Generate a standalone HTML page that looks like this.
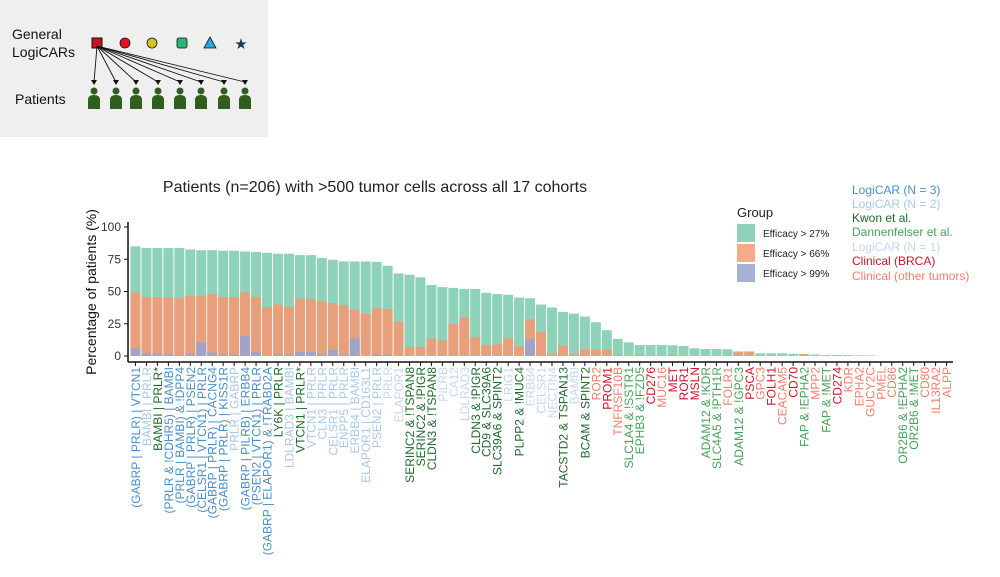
<!DOCTYPE html>
<html><head><meta charset="utf-8"><style>
body{margin:0;background:#fff;width:1000px;height:577px;overflow:hidden;font-family:"Liberation Sans",sans-serif}
svg{position:absolute;left:0;top:0}
</style></head><body>
<svg id="chart" width="1000" height="577" viewBox="0 0 1000 577">
<g>
<rect x="0" y="0" width="268" height="137" fill="#efefef"/>
<text x="12" y="39" font-size="14" fill="#111">General</text>
<text x="12" y="57" font-size="14" fill="#111">LogiCARs</text>
<text x="15" y="104" font-size="14" fill="#111">Patients</text>
<rect x="92" y="38" width="10" height="10" fill="#c8141e" stroke="#111" stroke-width="1"/>
<circle cx="125" cy="43" r="5" fill="#e0141e" stroke="#111" stroke-width="0.8"/>
<circle cx="152" cy="43" r="5" fill="#d8c020" stroke="#111" stroke-width="0.8"/>
<rect x="177" y="38" width="10" height="10" rx="2" fill="#2db47a" stroke="#111" stroke-width="0.8"/>
<polygon points="210,37 216,48 204,48" fill="#2aa8d8" stroke="#111" stroke-width="0.8"/>
<text x="241" y="49" font-size="15" text-anchor="middle" fill="#1a3a5a">★</text>
<g id="people"></g>
</g>
<text x="375" y="192" font-size="16" text-anchor="middle" fill="#222">Patients (n=206) with &gt;500 tumor cells across all 17 cohorts</text>
<text transform="translate(96,292) rotate(-90)" font-size="14" text-anchor="middle" fill="#111">Percentage of patients (%)</text>
<g id="bars"></g>
<g id="axes"></g>
<g id="xlabels"></g>
<g>
<text x="737" y="217" font-size="13" fill="#222">Group</text>
<rect x="737" y="224" width="18" height="18" fill="#8ed2b9"/>
<rect x="737" y="244" width="18" height="18" fill="#f8a98b"/>
<rect x="737" y="264" width="18" height="18" fill="#a6b1d6"/>
<text x="763" y="237" font-size="10" fill="#222">Efficacy &gt; 27%</text>
<text x="763" y="257" font-size="10" fill="#222">Efficacy &gt; 66%</text>
<text x="763" y="277" font-size="10" fill="#222">Efficacy &gt; 99%</text>
</g>
<g font-size="12">
<text x="852" y="194" fill="#4a8fc8">LogiCAR (N = 3)</text>
<text x="852" y="208" fill="#a9c9e6">LogiCAR (N = 2)</text>
<text x="852" y="222" fill="#1f6a2e">Kwon et al.</text>
<text x="852" y="236" fill="#46a35a">Dannenfelser et al.</text>
<text x="852" y="251" fill="#c3d8ee">LogiCAR (N = 1)</text>
<text x="852" y="265" fill="#d0142a">Clinical (BRCA)</text>
<text x="852" y="280" fill="#f2806e">Clinical (other tumors)</text>
</g>
</svg>
<script>
const labels=["(GABRP | PRLR) | VTCN1","BAMBI | PRLR","BAMBI | PRLR*","(PRLR & !CDHR5) | BAMBI","(PRLR | BAMBI) & !DPP4","(GABRP | PRLR) | PSEN2","(CELSR1 | VTCN1) | PRLR","(GABRP | PRLR) | CACNG4","(GABRP | PRLR) | KISS1R","PRLR | GABRP","(GABRP | PILRB) | ERBB4","(PSEN2 | VTCN1) | PRLR","(GABRP | ELAPOR1) & !TRABD2A","LY6K | PRLR","LDLRAD3 | BAMBI","VTCN1 | PRLR*","VTCN1 | PRLR","CLN3 | PRLR","CELSR1 | PRLR","ENPP5 | PRLR","ERBB4 | BAMBI","ELAPOR1 | CD163L1","PSEN2 | PRLR","PRLR","ELAPOR1","SERINC2 & !TSPAN8","SERINC2 & !PIGR","CLDN3 & !TSPAN8","PILRB","CA12","LDLRAD3","CLDN3 & !PIGR","CD9 & SLC39A6","SLC39A6 & SPINT2","LRIG1","PLPP2 & !MUC4","ERBB4","CELSR1","NECTIN4","TACSTD2 & TSPAN13","BAMBI","BCAM & SPINT2","ROR2","PROM1","TNFRSF10B","SLC1A4 & !SSTR1","EPHB3 & !FZD5","CD276","MUC16","MET","ROR1","MSLN","ADAM12 & !KDR","SLC4A5 & !PTH1R","FOLR1","ADAM12 & !GPC3","PSCA","GPC3","FOLH1","CEACAM5","CD70","FAP & !EPHA2","MPP2","FAP & !MET","CD274","KDR","EPHA2","GUCY2C","PMEL","CD86","OR2B6 & !EPHA2","OR2B6 & !MET","CD80","IL13RA2","ALPP"];
const groups=[3,2,"K",3,3,3,3,3,3,2,3,3,3,"K",2,"K",2,2,2,2,2,2,2,1,1,"K","K","K",1,1,1,"K","K","K",1,"K",1,1,1,"K",1,"K","O","B","O","D","D","B","O","B","B","B","D","D","O","D","B","O","B","O","B","D","O","D","B","O","O","O","O","O","D","D","O","O","O"];
const green=[85,83.7,83.7,83.7,83.7,82.6,82,82,81.6,81.6,81,80.6,80,79.3,79.3,78.2,78.2,76,74.6,73.3,73.3,73.3,73,70,64,63,61,55,53.4,52.8,52,52,49,48,47.4,45.3,44.8,39.9,37.6,34.2,32.9,30.6,26.2,20,13.2,10.6,8.5,8.5,8.5,8.3,7.8,6,5.4,5.4,5.2,3.6,3.6,2.1,2.1,2.1,1.7,1.5,1.2,0.8,0.8,0.8,0.5,0.5,0,0,0,0,0,0,0];
const orange=[49.2,45.6,45.6,45.6,44.8,46.6,46.6,48,45.6,45.6,49.2,45.6,37.8,40,37.8,44.3,44.3,42.7,41,39.6,35.8,32.6,37,36.5,26.7,7,7,13.7,12,24.9,29.8,14.5,8.5,9,13.7,7.5,28.5,18.9,1.5,7.8,1.5,5.2,5.2,5.2,0.8,0,0.8,0,0,0.8,0,0,0,0,0,3.2,3.2,0,0,0,0,1.5,0,0,0,0,0,0,0,0,0,0,0,0,0];
const purple=[6,2,2,1.3,0.5,1.5,10.6,2.8,1,1,15.5,3.4,0,1,1,3.4,3.4,1.5,4.7,1,13.7,0,1,1,0,0,0,0,0,0,0,0,0,0,0,0,13,0,0,0,0,0,0,0,0,0,0,0,0,0,0,0,0,0,0,0,0,0,0,0,0,0,0,0,0,0,0,0,0,0,0,0,0,0,0];
const yTicks=[0,25,50,75,100];
const NS="http://www.w3.org/2000/svg";
const colorMap={3:"#4a8fc8",2:"#a9c9e6",1:"#c3d8ee",K:"#1f6a2e",D:"#46a35a",B:"#d0142a",O:"#f2806e"};
const x0=135.5,step=10.96,bw=10;
const xs=i=>x0+i*step;
const ys=v=>356-v*1.29;
function mk(tag,attrs,parent){const e=document.createElementNS(NS,tag);for(const k in attrs)e.setAttribute(k,attrs[k]);parent.appendChild(e);return e;}
const bars=document.getElementById('bars');
const series=[[green,"#8ed2b9","green"],[orange,"#e8a07c","orange"],[purple,"#a3a3c6","purple"]];
series.forEach(([arr,col,nm])=>{arr.forEach((v,i)=>{if(v<=0)return;
const r=mk('rect',{x:xs(i)-bw/2,y:ys(v),width:bw,height:ys(0)-ys(v),fill:col},bars);

});});
const ax=document.getElementById('axes');
const ya=mk('line',{x1:128,y1:222,x2:128,y2:362,stroke:'#111','stroke-width':1.5},ax);


const xa=mk('line',{x1:128,y1:362,x2:953,y2:362,stroke:'#111','stroke-width':1.5},ax);


yTicks.forEach(t=>{mk('line',{x1:124,y1:ys(t),x2:128,y2:ys(t),stroke:'#111'},ax);
const tx=mk('text',{x:121,y:ys(t)+4,'font-size':12,'text-anchor':'end',fill:'#333'},ax);tx.textContent=t;

});
const xl=document.getElementById('xlabels');
labels.forEach((l,i)=>{mk('line',{x1:xs(i),y1:362,x2:xs(i),y2:366,stroke:'#111'},ax);
const t=mk('text',{transform:`translate(${xs(i)+4.5},367) rotate(-90)`,'font-size':12,'text-anchor':'end',fill:colorMap[groups[i]]},xl);t.textContent=l;

});
const ppl=document.getElementById('people');
[94,116,136,158,180,201,224,245].forEach(px=>{
mk('line',{x1:97,y1:46,x2:px,y2:82,stroke:'#111','stroke-width':0.9},ppl);
mk('polygon',{points:`${px-3},80 ${px+3},80 ${px},85`,fill:'#111'},ppl);
mk('circle',{cx:px,cy:91,r:3.5,fill:'#2f5e1e'},ppl);
mk('path',{d:`M${px-6},109 L${px-6},100 Q${px-6},95 ${px},95 Q${px+6},95 ${px+6},100 L${px+6},109 Z`,fill:'#2f5e1e'},ppl);
});
</script>
</body></html>
